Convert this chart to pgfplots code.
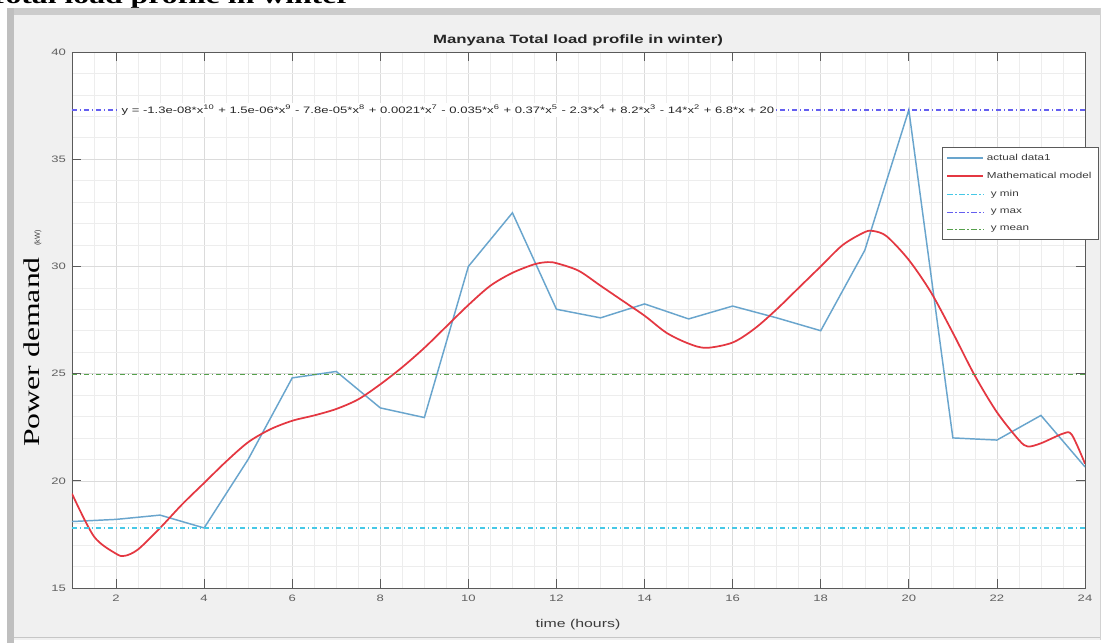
\documentclass[border=0pt]{standalone}
\usepackage{pgfplots}
\pgfplotsset{compat=1.18}
\usepackage{fontspec}
\setmainfont{Liberation Sans}
\newfontfamily\serifB{Liberation Serif}
\usepackage{graphicx}
\definecolor{dataBlue}{RGB}{105,165,205}
\definecolor{modelRed}{RGB}{228,55,65}
\definecolor{yminC}{RGB}{70,200,230}
\definecolor{ymaxC}{RGB}{100,95,240}
\definecolor{ymeanC}{RGB}{85,160,75}
\definecolor{panel}{RGB}{240,240,240}
\definecolor{axisC}{RGB}{90,90,90}
\definecolor{labC}{RGB}{60,60,60}
\newcommand{\sx}[1]{\scalebox{1.4}[1]{#1}}
\begin{document}
\begin{tikzpicture}
\begin{scope}[xshift=-54pt,yshift=441pt,x=0.75pt,y=-0.75pt]
\fill[white] (0,0) rectangle (1108,643);
\fill[panel] (14,15) rectangle (1100,640);
\fill[gray!40] (7,8) rectangle (1100,15);
\fill[gray!50] (7,8) rectangle (14,643);
\draw[gray!45] (14,637) -- (1100,637);
\draw[gray!35] (1100,8) -- (1100,640);
\end{scope}
\begin{axis}[
  at={(0,0)}, anchor=south west,
  scale only axis, width=759.75pt, height=402pt,
  xmin=1, xmax=24, ymin=15, ymax=40,
  xtick={2,4,...,24}, ytick={15,20,...,40},
  minor xtick={1,1.5,...,24}, minor ytick={15,...,40},
  grid=both,
  major grid style={gray!28, line width=0.4pt},
  minor grid style={gray!14, line width=0.4pt},
  tick align=inside, major tick length=7pt, minor tick length=0pt,
  tick style={axisC, line width=0.6pt},
  axis line style={axisC, line width=0.7pt},
  axis background/.style={fill=white},
  tick label style={font=\fontsize{7}{8}\selectfont, text=gray!75!black},
  xticklabel={\sx{\pgfmathprintnumber{\tick}}},
  yticklabel={\sx{\pgfmathprintnumber{\tick}}},
  xticklabel style={yshift=-2pt},
  yticklabel style={xshift=-1pt},
  /pgf/number format/assume math mode=true,
  legend style={at={(0.859,0.823)}, anchor=north west, draw=axisC, fill=white,
    font=\fontsize{6.5}{7.5}\selectfont, text=labC, row sep=3.6pt, inner sep=3pt},
  legend cell align=left,
  legend image code/.code={\draw[#1] plot coordinates {(0cm,0cm) (0.95cm,0cm)};},
]
\addplot[dataBlue, line width=1.1pt] coordinates {
(1,18.1) (2,18.2) (3,18.4) (4,17.8) (5,21.0) (6,24.8) (7,25.1) (8,23.4) (9,22.95)
(10,30.0) (11,32.5) (12,28.0) (13,27.6) (14,28.25) (15,27.55) (16,28.15) (17,27.6)
(18,27.0) (19,30.75) (20,37.3) (21,22.0) (22,21.9) (23,23.05) (24,20.65)};
\addlegendentry{\scalebox{1.35}[1]{actual data1}}
\addplot[modelRed, line width=1.3pt, smooth] coordinates {
(1,19.4) (1.5,17.4) (2,16.6) (2.2,16.5) (2.5,16.8) (3,17.8) (3.5,18.9) (4,19.9)
(4.5,20.9) (5,21.8) (5.5,22.4) (6,22.8) (6.5,23.05) (7,23.35) (7.5,23.8) (8,24.5)
(8.5,25.3) (9,26.2) (9.5,27.2) (10,28.2) (10.5,29.1) (11,29.7) (11.5,30.1) (11.8,30.2)
(12,30.15) (12.5,29.8) (13,29.1) (13.5,28.4) (14,27.7) (14.5,26.9) (15,26.4) (15.4,26.2)
(16,26.45) (16.5,27.1) (17,28.0) (17.5,29.0) (18,30.0) (18.5,31.0) (19,31.6) (19.2,31.65)
(19.5,31.4) (20,30.3) (20.5,28.8) (21,26.9) (21.5,24.9) (22,23.2) (22.5,21.9) (22.7,21.6)
(23,21.75) (23.5,22.2) (23.7,22.15) (24,20.8)};
\addlegendentry{\scalebox{1.35}[1]{Mathematical model}}
\addplot[yminC, line width=1pt, dash pattern=on 4pt off 2pt on 1pt off 2pt] coordinates {(1,17.8) (24,17.8)};
\addlegendentry{\hspace{3pt}\scalebox{1.35}[1]{y min}}
\addplot[ymaxC, line width=1pt, dash pattern=on 4pt off 2pt on 1pt off 2pt] coordinates {(1,37.3) (24,37.3)};
\addlegendentry{\hspace{3pt}\scalebox{1.35}[1]{y max}}
\addplot[ymeanC, line width=1pt, dash pattern=on 4pt off 2pt on 1pt off 2pt] coordinates {(1,24.95) (24,24.95)};
\addlegendentry{\hspace{3pt}\scalebox{1.35}[1]{y mean}}
\node[fill=white, inner sep=1pt, anchor=west, font=\fontsize{7}{8}\selectfont, text=black!85]
  at (axis cs:2.09,37.3) {\sx{y = -1.3e-08*x\textsuperscript{10} + 1.5e-06*x\textsuperscript{9} - 7.8e-05*x\textsuperscript{8} + 0.0021*x\textsuperscript{7} - 0.035*x\textsuperscript{6} + 0.37*x\textsuperscript{5} - 2.3*x\textsuperscript{4} + 8.2*x\textsuperscript{3} - 14*x\textsuperscript{2} + 6.8*x + 20}};
\end{axis}
\begin{scope}[xshift=-54pt,yshift=441pt,x=0.75pt,y=-0.75pt]
\node[font=\bfseries\fontsize{9}{10}\selectfont, text=black!85] at (578,40) {\sx{Manyana Total load profile in winter)}};
\node[font=\fontsize{8.5}{10}\selectfont, text=labC] at (578,625) {\sx{time (hours)}};
\node[rotate=90, font=\fontsize{5.5}{6}\selectfont, text=labC] at (38,238) {(kW)};
\node[rotate=90, font=\serifB\fontsize{17}{18}\selectfont] at (32,352) {\scalebox{1.4}[1]{Power demand}};
\node[anchor=base west, inner sep=0pt, font=\serifB\bfseries\fontsize{17}{18}\selectfont] at (-13,4) {\scalebox{1.4}[1]{Total load profile in winter}};
\pgfresetboundingbox
\path[use as bounding box] (0,0) rectangle (1108,643);
\end{scope}
\end{tikzpicture}
\end{document}
